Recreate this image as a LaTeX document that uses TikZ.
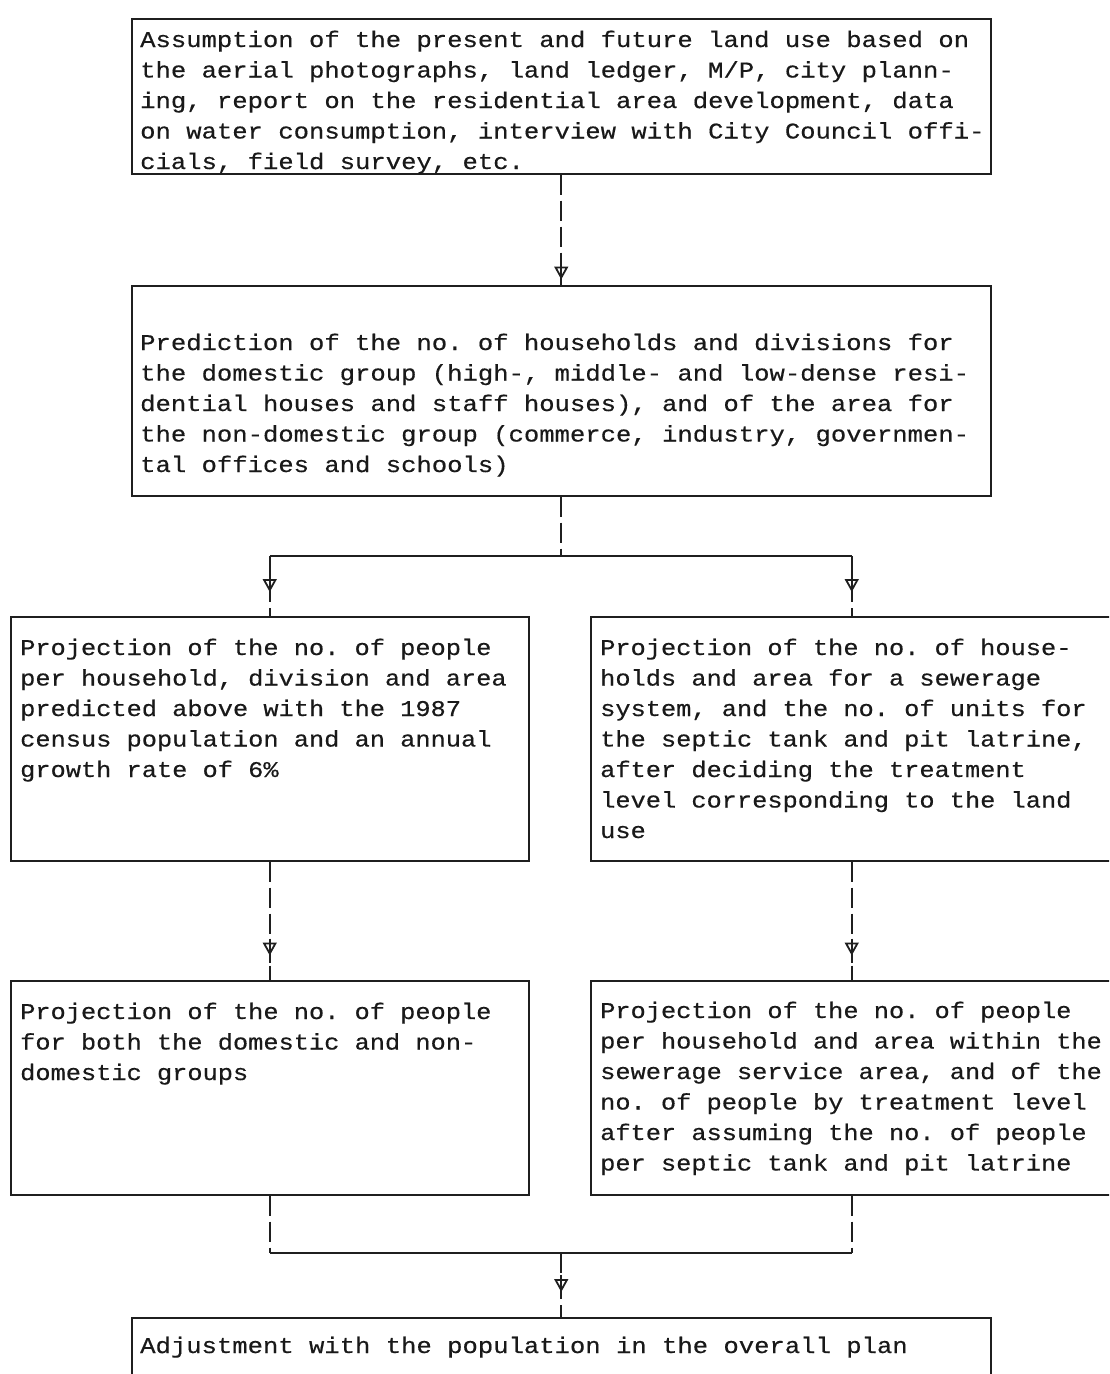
\documentclass[tikz,border=0pt]{standalone}
\usepackage{fontspec}
\newfontfamily\tw[FakeStretch=1.126,FakeBold=0.4]{Liberation Mono}
\newfontfamily\twb[FakeStretch=1.137,FakeBold=0.4]{Liberation Mono}
\newcommand{\fixsp}{\spaceskip=15.2pt\relax\xspaceskip=15.2pt\relax}
\newcommand{\fixspb}{\spaceskip=15.35pt\relax\xspaceskip=15.35pt\relax}
\usetikzlibrary{arrows.meta,decorations.markings}
\tikzset{
  boxst/.style={draw=black!88, line width=1.5pt, rectangle, inner sep=0pt, anchor=north west},
  txt/.style={inner sep=0pt, anchor=base west, text width=1000pt, align=left, text=black!90,
    font=\tw\fontsize{22.5pt}{30.5pt}\selectfont},
  txtb/.style={txt, font=\twb\fontsize{22.5pt}{30.5pt}\selectfont},
  conn/.style={draw=black!88, line width=1.6pt, dash pattern=on 20pt off 6pt},
  hline/.style={draw=black!88, line width=1.5pt},
  arrowat/.style={postaction={decorate}, decoration={markings, mark=at position #1 with {
      \draw[solid, line width=1.6pt] (-17pt,0) -- (7pt,0);
      \arrow[line width=1.8pt, solid]{Triangle[open,length=13pt,width=14pt]}}}}
}
\begin{document}
\begin{tikzpicture}[x=1pt,y=-1pt]
\useasboundingbox (0,0) rectangle (1109,1374);
\clip (0,0) rectangle (1109,1374);
\fill[white] (0,0) rectangle (1109,1374);

% boxes
\node[boxst, minimum width=859pt, minimum height=155pt] (b1) at (131,18) {};
\node[boxst, minimum width=859pt, minimum height=210pt] (b2) at (131,285) {};
\node[boxst, minimum width=518pt, minimum height=244pt] (b3) at (10,616) {};
\node[boxst, minimum width=522pt, minimum height=244pt] (b4) at (590,616) {};
\node[boxst, minimum width=518pt, minimum height=214pt] (b5) at (10,980) {};
\node[boxst, minimum width=522pt, minimum height=214pt] (b6) at (590,980) {};
\node[boxst, minimum width=859pt, minimum height=90pt] (b7) at (131,1317) {};

% texts
\node[txtb] (t1) at (140,47) {\fixspb Assumption of the present and future land use based on\\
the aerial photographs, land ledger, M/P, city plann-\\
ing, report on the residential area development, data\\
on water consumption, interview with City Council offi-\\
cials, field survey, etc.};
\node[txtb] (t2) at (140,350) {\fixspb Prediction of the no. of households and divisions for\\
the domestic group (high-, middle- and low-dense resi-\\
dential houses and staff houses), and of the area for\\
the non-domestic group (commerce, industry, governmen-\\
tal offices and schools)};
\node[txt] (t3) at (20,655) {\fixsp Projection of the no. of people\\
per household, division and area\\
predicted above with the 1987\\
census population and an annual\\
growth rate of 6\%};
\node[txt] (t4) at (600,655) {\fixsp Projection of the no. of house-\\
holds and area for a sewerage\\
system, and the no. of units for\\
the septic tank and pit latrine,\\
after deciding the treatment\\
level corresponding to the land\\
use};
\node[txt] (t5) at (20,1019) {\fixsp Projection of the no. of people\\
for both the domestic and non-\\
domestic groups};
\node[txt] (t6) at (600,1018) {\fixsp Projection of the no. of people\\
per household and area within the\\
sewerage service area, and of the\\
no. of people by treatment level\\
after assuming the no. of people\\
per septic tank and pit latrine};
\node[txtb] (t7) at (140,1353) {\fixspb Adjustment with the population in the overall plan};

% junction coordinates
\coordinate (j1) at (b2.south |- 0,556);
\coordinate (jl) at (b3.north |- 0,556);
\coordinate (jr) at (b4.north |- 0,556);
\coordinate (k1) at (b7.north |- 0,1253);
\coordinate (kl) at (b5.south |- 0,1253);
\coordinate (kr) at (b6.south |- 0,1253);

% connectors
\draw[conn, arrowat=105pt] (b1.south) -- (b2.north);
\draw[conn] (b2.south) -- (j1);
\draw[hline] (jl) -- (jr);
\draw[conn, arrowat=36pt] (jl) -- (b3.north);
\draw[conn, arrowat=36pt] (jr) -- (b4.north);
\draw[conn, arrowat=94pt] (b3.south) -- (b5.north);
\draw[conn, arrowat=94pt] (b4.south) -- (b6.north);
\draw[conn] (b5.south) -- (kl);
\draw[conn] (b6.south) -- (kr);
\draw[hline] (kl) -- (kr);
\draw[conn, arrowat=39pt] (k1) -- (b7.north);
\end{tikzpicture}
\end{document}
